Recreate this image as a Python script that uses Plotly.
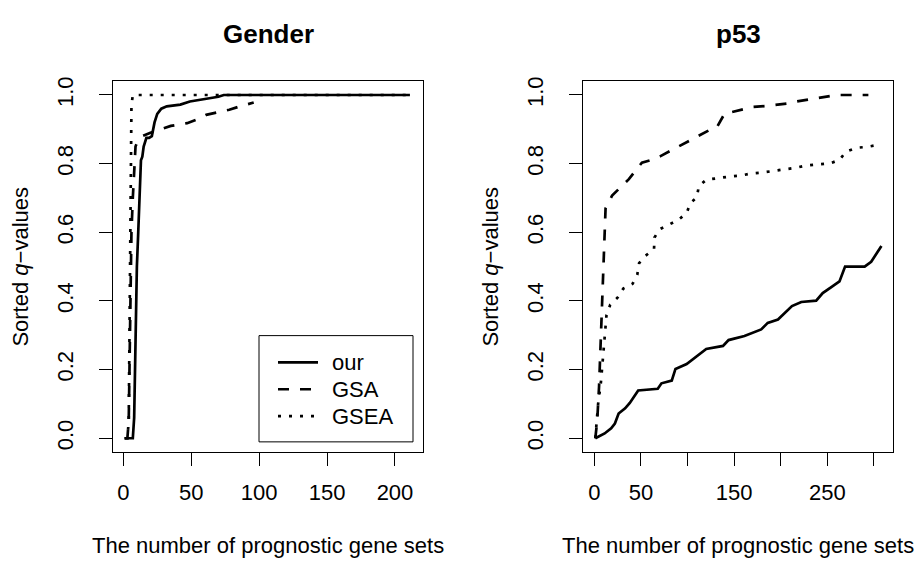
import plotly.graph_objects as go

# ---- Data ----
# Left panel: Gender
gender_our_x = [1, 7, 8, 9, 10, 11, 12, 13, 14, 15, 17, 19, 21, 23, 25, 28, 32, 37, 42, 49, 56, 64, 70, 74, 100, 150, 211]
gender_our_y = [0, 0, 0.06, 0.3, 0.5, 0.6, 0.7, 0.81, 0.82, 0.85, 0.875, 0.875, 0.88, 0.92, 0.945, 0.96, 0.967, 0.97, 0.972, 0.981, 0.985, 0.99, 0.995, 1.0, 1.0, 1.0, 1.0]

gender_gsa_x = [1, 3, 4, 5, 6, 7, 8, 9, 10, 12, 14, 20, 27, 35, 47, 55, 61, 70, 78, 86, 96]
gender_gsa_y = [0, 0, 0.05, 0.35, 0.6, 0.7, 0.8, 0.85, 0.86, 0.87, 0.88, 0.89, 0.90, 0.91, 0.918, 0.93, 0.942, 0.95, 0.957, 0.967, 0.978]

gender_gsea_x = [1, 3, 4, 5, 6, 7, 211]
gender_gsea_y = [0, 0, 0.05, 0.6, 0.97, 1.0, 1.0]

# Right panel: p53
p53_our_x = [1, 11, 18, 22, 26, 33, 38, 45, 47, 68, 72, 83, 87, 99, 111, 120, 138, 144, 161, 179, 186, 197, 212, 222, 238, 245, 255, 263, 269, 290, 297, 303, 306, 308]
p53_our_y = [0, 0.014, 0.029, 0.043, 0.072, 0.087, 0.103, 0.134, 0.139, 0.144, 0.16, 0.168, 0.202, 0.216, 0.24, 0.26, 0.269, 0.286, 0.298, 0.317, 0.336, 0.346, 0.385, 0.397, 0.401, 0.423, 0.442, 0.457, 0.5, 0.5, 0.514, 0.538, 0.55, 0.56]

p53_gsa_x = [1, 3, 5, 7, 9, 11, 12, 19, 28, 37, 51, 60, 71, 80, 90, 100, 113, 125, 131, 136, 140, 144, 155, 170, 185, 196, 210, 217, 230, 242, 255, 260, 294]
p53_gsa_y = [0, 0.05, 0.15, 0.3, 0.45, 0.6, 0.67, 0.707, 0.73, 0.755, 0.803, 0.81, 0.822, 0.835, 0.851, 0.865, 0.885, 0.9, 0.904, 0.93, 0.947, 0.948, 0.955, 0.965, 0.968, 0.971, 0.976, 0.981, 0.987, 0.993, 0.998, 1.0, 1.0]

p53_gsea_x = [1, 4, 7, 9, 11.5, 13, 17, 25, 31, 41, 46, 48, 55, 64, 64.5, 70, 80, 91, 99, 103, 110, 112, 120, 131, 144, 156, 168, 180, 193, 204, 216, 228, 240, 253, 263, 270, 281, 293, 305]
p53_gsea_y = [0, 0.10, 0.163, 0.226, 0.293, 0.359, 0.389, 0.41, 0.436, 0.45, 0.476, 0.51, 0.532, 0.551, 0.585, 0.609, 0.622, 0.638, 0.656, 0.685, 0.702, 0.734, 0.753, 0.758, 0.762, 0.765, 0.771, 0.774, 0.779, 0.782, 0.788, 0.795, 0.798, 0.801, 0.811, 0.835, 0.846, 0.849, 0.855]

series_names = ["our", "GSA", "GSEA"]
panel_titles = ["Gender", "p53"]
x_title = "The number of prognostic gene sets"
y_title = "Sorted <i>q</i>\u2212values"

left_xticks = [0, 50, 100, 150, 200]
left_xticklabels = ["0", "50", "100", "150", "200"]
right_xticks = [0, 50, 100, 150, 200, 250, 300]
right_xticklabels = ["0", "50", "", "150", "", "250", ""]
y_ticks = [0.0, 0.2, 0.4, 0.6, 0.8, 1.0]
y_ticklabels = ["0.0", "0.2", "0.4", "0.6", "0.8", "1.0"]

FONT = "Liberation Sans, Arial, Helvetica, sans-serif"
LW = 2.7
dashes = ["solid", "11px,11px", "3px,8px"]

fig = go.Figure()

left = [(gender_our_x, gender_our_y), (gender_gsa_x, gender_gsa_y), (gender_gsea_x, gender_gsea_y)]
right = [(p53_our_x, p53_our_y), (p53_gsa_x, p53_gsa_y), (p53_gsea_x, p53_gsea_y)]

for (x, y), name, d in zip(left, series_names, dashes):
    fig.add_trace(go.Scatter(x=x, y=y, mode="lines", name=name,
                             line=dict(color="black", width=LW, dash=d),
                             xaxis="x", yaxis="y", showlegend=False))
for (x, y), name, d in zip(right, series_names, dashes):
    fig.add_trace(go.Scatter(x=x, y=y, mode="lines", name=name,
                             line=dict(color="black", width=LW, dash=d),
                             xaxis="x2", yaxis="y2", showlegend=False))

W, H = 921, 562
xd1 = [113.3 / W, 422.7 / W]
xd2 = [583.3 / W, 892.7 / W]
yd = [1 - 451.7 / H, 1 - 77.3 / H]

axis_common = dict(showline=True, mirror=True, linecolor="black", linewidth=1,
                   ticks="outside", ticklen=13, tickwidth=1, tickcolor="black",
                   showgrid=False, zeroline=False,
                   tickfont=dict(family=FONT, size=22, color="black"))

fig.update_layout(
    width=W, height=H, autosize=False,
    margin=dict(l=0, r=0, t=0, b=0),
    paper_bgcolor="white", plot_bgcolor="white",
    font=dict(family=FONT, size=22, color="black"),
    showlegend=False,
    xaxis=dict(domain=xd1, range=[-7.36, 220.4], tickvals=left_xticks, ticktext=left_xticklabels,
               anchor="y", ticklabelstandoff=7, **axis_common),
    yaxis=dict(domain=yd, range=[-0.0415, 1.0415], tickvals=y_ticks, ticktext=y_ticklabels,
               anchor="x", tickangle=-90, ticklabelstandoff=18, **axis_common),
    xaxis2=dict(domain=xd2, range=[-11.9, 320.1], tickvals=right_xticks, ticktext=right_xticklabels,
                anchor="y2", ticklabelstandoff=7, **axis_common),
    yaxis2=dict(domain=yd, range=[-0.0415, 1.0415], tickvals=y_ticks, ticktext=y_ticklabels,
                anchor="x2", tickangle=-90, ticklabelstandoff=18, **axis_common),
)

annotations = []
for xd, t in zip([xd1, xd2], panel_titles):
    cx = (xd[0] + xd[1]) / 2
    annotations.append(dict(text="<b>" + t + "</b>", x=cx, y=1 - 30 / H, xref="paper", yref="paper",
                            showarrow=False, xanchor="center", yanchor="middle",
                            font=dict(family=FONT, size=26, color="black")))
    annotations.append(dict(text=x_title, x=cx, y=1 - 545 / H, xref="paper", yref="paper",
                            showarrow=False, xanchor="center", yanchor="middle",
                            font=dict(family=FONT, size=22, color="black")))
for px in [21, 491]:
    annotations.append(dict(text=y_title, x=px / W, y=(yd[0] + yd[1]) / 2, xref="paper", yref="paper",
                            showarrow=False, xanchor="center", yanchor="middle", textangle=-90,
                            font=dict(family=FONT, size=22, color="black")))

# Legend box (left panel), drawn in paper coordinates
shapes = [dict(type="rect", xref="paper", yref="paper",
               x0=259 / W, x1=413 / W, y0=1 - 441 / H, y1=1 - 334 / H,
               line=dict(color="black", width=1), fillcolor="white", layer="above")]
leg_rows = [361, 388, 415]
for row, name, d in zip(leg_rows, series_names, dashes):
    shapes.append(dict(type="line", xref="paper", yref="paper",
                       x0=278 / W, x1=318 / W, y0=1 - row / H, y1=1 - row / H,
                       line=dict(color="black", width=LW, dash=d), layer="above"))
    annotations.append(dict(text=name, x=330 / W, y=1 - row / H, xref="paper", yref="paper",
                            showarrow=False, xanchor="left", yanchor="middle",
                            font=dict(family=FONT, size=22, color="black")))
fig.update_layout(annotations=annotations, shapes=shapes)

fig.write_html("out.html", config={"displayModeBar": False},
               post_script="document.body.style.margin='0';document.body.style.overflow='hidden';")
